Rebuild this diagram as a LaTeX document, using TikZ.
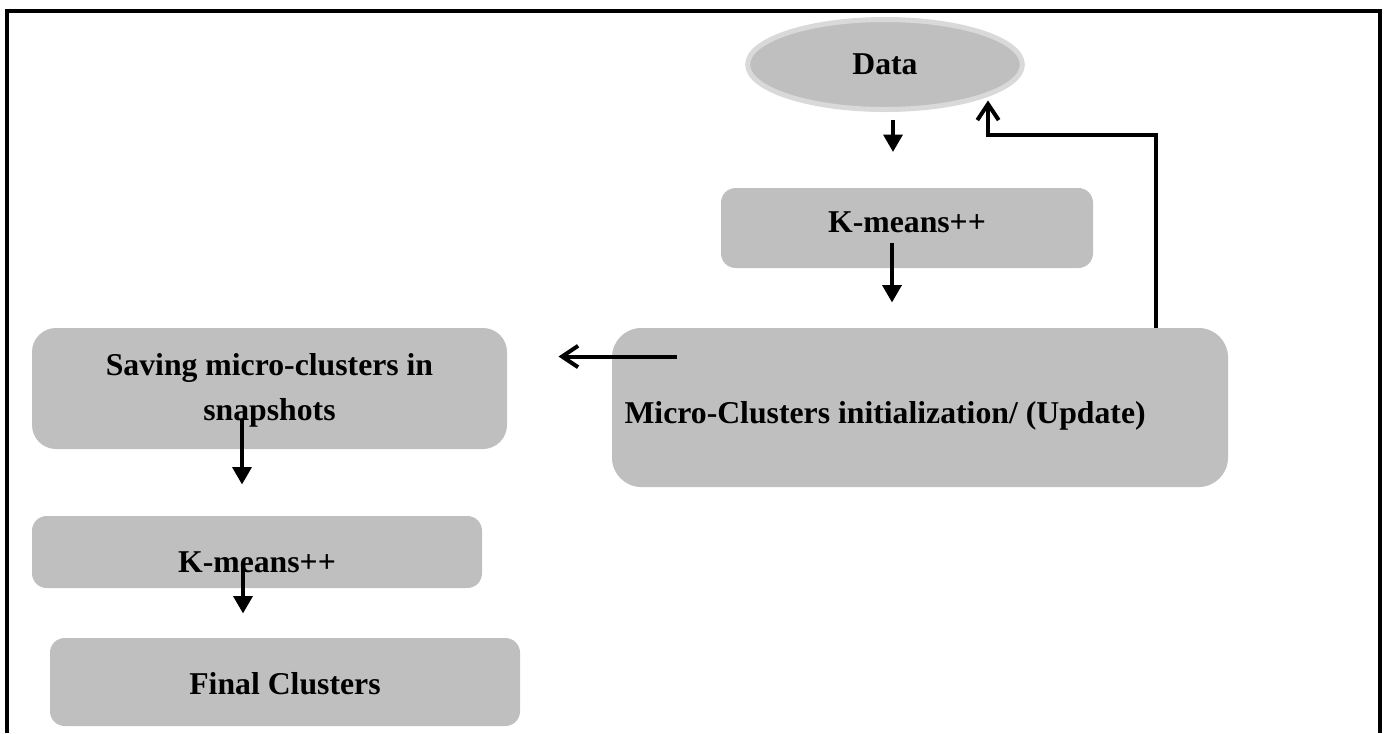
\documentclass[tikz,border=0pt]{standalone}
\usepackage{fontspec}
\setmainfont{Liberation Serif}
\usetikzlibrary{shapes.geometric,arrows.meta,calc}

\definecolor{boxgray}{RGB}{191,191,191}
\definecolor{rimgray}{RGB}{217,217,217}

\tikzset{every picture/.style={line width=0.75pt}}
\tikzset{
  stepbox/.style={draw=none, fill=boxgray, rectangle, rounded corners=#1, inner sep=0pt},
  stepbox/.default=11pt,
  dataoval/.style={ellipse, fill=boxgray, draw=rimgray, line width=3.75pt, inner sep=0pt},
  lbl/.style={font=\fontsize{23.8}{33.75}\selectfont\bfseries, inner sep=0pt},
  outerframe/.style={line width=3pt},
  flowarrow/.style={line width=3pt, -{Triangle[width=14pt,length=13pt]}},
  openarrow/.style={line width=3pt, -{Straight Barb[width=16pt,length=12pt,line width=3pt]}}
}

\begin{document}
\begin{tikzpicture}[x=0.75pt,y=0.75pt,yscale=-1,xscale=1]

\useasboundingbox (0,0) rectangle (1386,733);
\draw[outerframe] (7,733) |- (1379.5,10.5) -- (1379.5,733);

\node[dataoval, lbl, minimum width=206pt, minimum height=67.5pt] (data) at (885,64.5) {Data};

\node[stepbox, minimum width=279pt, minimum height=60pt] (kmone) at (907,228) {};
\node[lbl] (kmonet) at (907,222) {K-means++};

\node[stepbox=22pt, minimum width=462pt, minimum height=119.25pt] (micro) at (920,407.5) {};
\node[lbl, anchor=base west] (microt) at (624,423) {Micro-Clusters initialization/ (Update)};

\node[stepbox=18pt, minimum width=356.25pt, minimum height=90.75pt] (save) at (269.5,388.5) {};
\node[lbl, align=center] (savet) at (269.5,390) {Saving micro-clusters in\\snapshots};

\node[stepbox, minimum width=337.5pt, minimum height=54pt] (kmtwo) at (257,552) {};
\node[lbl] (kmtwot) at (257,562) {K-means++};

\node[stepbox, minimum width=352.5pt, minimum height=66pt] (final) at (285,682) {};
\node[lbl] (finalt) at (285,684) {Final Clusters};

\draw[flowarrow] ($(data.south)+(8,8)$) -- ++(0,32);
\draw[flowarrow] ($(kmone.south)+(-15,-26)$) -- ++(0,60);
\draw[openarrow] ($(micro.north west)+(65,29)$) -- ($(save.north east)+(51,29)$);
\draw[openarrow] ($(micro.north east)+(-73,0)$) |- ($(data.center)+(103,70)$) -- ($(data.center)+(103,36)$);
\draw[flowarrow] ($(save.south)+(-27.5,-31)$) -- ++(0,66);
\draw[flowarrow] ($(kmtwo.south)+(-14,-25)$) -- ++(0,50);

\end{tikzpicture}
\end{document}
